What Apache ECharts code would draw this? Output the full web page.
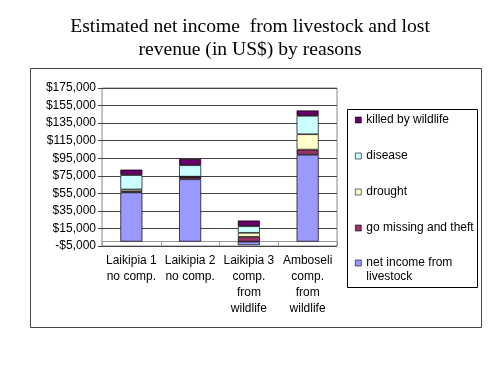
<!DOCTYPE html>
<html>
<head>
<meta charset="utf-8">
<script src="https://cdn.jsdelivr.net/npm/echarts@6/dist/echarts.min.js"></script>
<style>html,body{margin:0;padding:0;background:#fff}#c{width:500px;height:375px}</style>
</head>
<body>
<div id="c"></div>
<script>
var categories = ['Laikipia 1\nno comp.', 'Laikipia 2\nno comp.', 'Laikipia 3\ncomp.\nfrom\nwildlife', 'Amboseli\ncomp.\nfrom\nwildlife'];
var netIncome = [56000, 71000, -4000, 99000];
var goMissing = [1200, 2500, 5500, 5800];
var drought = [2200, 500, 4500, 17500];
var disease = [16400, 13000, 7500, 21000];
var killedByWildlife = [6200, 7200, 6500, 6100];
var yMin = -5000, yMax = 175000, yStep = 20000;

function money(v) {
  var a = Math.abs(v).toString().replace(/\B(?=(\d{3})+(?!\d))/g, ',');
  return (v < 0 ? '-$' : '$') + a;
}

var FONT = 'Liberation Sans, Arial, sans-serif';
var names = ['net income from livestock', 'go missing and theft', 'drought', 'disease', 'killed by wildlife'];
var colors = ['#9999FF', '#993366', '#FFFFCC', '#CCFFFF', '#660066'];
var values = [netIncome, goMissing, drought, disease, killedByWildlife];

var series = names.map(function (n, i) {
  return {
    name: n, type: 'bar', stack: 'total', barWidth: 22,
    data: values[i],
    itemStyle: { color: colors[i], borderColor: '#000', borderWidth: 0.7 },
    emphasis: { disabled: true }
  };
});

var chart = echarts.init(document.getElementById('c'), null, { renderer: 'canvas' });
chart.setOption({
  animation: false,
  backgroundColor: '#fff',
  title: {
    text: 'Estimated net income  from livestock and lost\nrevenue (in US$) by reasons',
    left: 'center', top: 10,
    textStyle: { fontFamily: 'Liberation Serif, Times New Roman, serif', fontSize: 19.6, fontWeight: 'normal', color: '#000', lineHeight: 23 }
  },
  graphic: [
    { type: 'rect', shape: { x: 30.5, y: 68.5, width: 451, height: 259 }, style: { fill: 'none', stroke: '#444', lineWidth: 1 }, z: -1 },
    { type: 'rect', shape: { x: 347.5, y: 109.5, width: 130, height: 178 }, style: { fill: '#fff', stroke: '#000', lineWidth: 1 }, z: 0 }
  ],
  legend: [
    {
      orient: 'vertical', left: 350, top: 108, itemGap: 22,
      itemWidth: 6, itemHeight: 6, icon: 'rect',
      itemStyle: { borderColor: '#000', borderWidth: 0.6 },
      textStyle: { fontFamily: FONT, fontSize: 12, color: '#000', lineHeight: 14 },
      data: ['killed by wildlife', 'disease', 'drought', 'go missing and theft'],
      selectedMode: false, z: 5
    },
    {
      orient: 'vertical', left: 350, top: 237, itemGap: 22,
      itemWidth: 6, itemHeight: 6, icon: 'rect',
      itemStyle: { borderColor: '#000', borderWidth: 0.6 },
      textStyle: { fontFamily: FONT, fontSize: 12, color: '#000', lineHeight: 14 },
      formatter: function () { return ' \nnet income from\nlivestock'; },
      data: ['net income from livestock'],
      selectedMode: false, z: 5
    }
  ],
  grid: { left: 102, right: 163, top: 88, bottom: 129, show: true, borderColor: '#888', borderWidth: 1, containLabel: false },
  xAxis: {
    type: 'category', data: categories,
    axisLine: { onZero: true, lineStyle: { color: '#999' } },
    axisTick: { show: true, length: 4, lineStyle: { color: '#999' } },
    axisLabel: { fontFamily: FONT, fontSize: 12, color: '#000', lineHeight: 16, margin: 7, interval: 0 }
  },
  yAxis: {
    type: 'value', min: yMin, max: yMax, interval: yStep,
    axisLine: { show: false },
    axisTick: { show: true, length: 4, lineStyle: { color: '#444' } },
    splitLine: { lineStyle: { color: '#444', width: 1 } },
    axisLabel: { fontFamily: FONT, fontSize: 12, color: '#000', margin: 6, formatter: money }
  },
  series: series
});
</script>
</body>
</html>
